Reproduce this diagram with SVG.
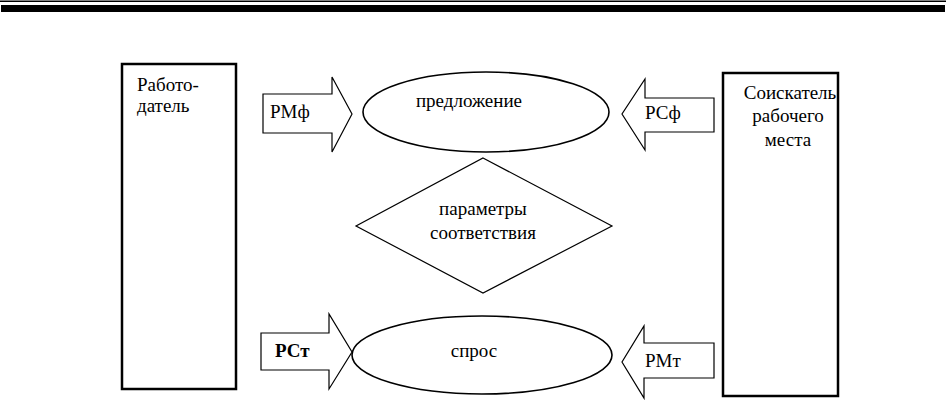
<svg xmlns="http://www.w3.org/2000/svg" width="946" height="408" viewBox="0 0 946 408">
<style>
text{font-family:'Liberation Serif','Times New Roman',serif;font-size:19px;fill:#000}
.box{fill:#fff;stroke:#000;stroke-width:2.5}
.arr{fill:#fff;stroke:#000;stroke-width:1.2}
.ell{fill:#fff;stroke:#000;stroke-width:1.6}
.dia{fill:#fff;stroke:#000;stroke-width:1.2}
.mid{text-anchor:middle}
</style>
<rect x="0" y="0" width="946" height="408" fill="#fff"/>
<g id="header">
<rect x="0" y="0.5" width="946" height="1.5" fill="#000"/>
<rect x="1" y="5" width="944" height="7" fill="#000"/>
</g>
<g id="employer">
<rect class="box" x="122" y="64" width="114" height="325"/>
<text x="137" y="91">Работо-</text>
<text x="137" y="112">датель</text>
</g>
<g id="seeker">
<rect class="box" x="723" y="73" width="115" height="323"/>
<text class="mid" x="790" y="99">Соискатель</text>
<text class="mid" x="788" y="122">рабочего</text>
<text class="mid" x="788" y="146">места</text>
</g>
<g id="supply">
<ellipse class="ell" cx="486" cy="112" rx="123" ry="40"/>
<text class="mid" x="469" y="107">предложение</text>
</g>
<g id="demand">
<ellipse class="ell" cx="482" cy="355" rx="130" ry="39"/>
<text class="mid" x="474" y="357">спрос</text>
</g>
<g id="params">
<polygon class="dia" points="483,158 612,226 483,293 356,226"/>
<text class="mid" x="483" y="215">параметры</text>
<text class="mid" x="483" y="239">соответствия</text>
</g>
<g id="connectors">
<g id="arrow-RMf">
<polygon class="arr" points="263,94 332,94 332,77 352,114 332,152 332,133 263,133"/>
<text x="270" y="118">РМф</text>
</g>
<g id="arrow-RSf">
<polygon class="arr" points="714,98 645,98 645,79 622,114 645,150 645,132 714,132"/>
<text x="645" y="119">РСф</text>
</g>
<g id="arrow-RSt">
<polygon class="arr" points="261,333 329,333 329,314 352,352 329,389 329,370 261,370"/>
<text x="275" y="357" font-weight="bold" font-size="18">РСт</text>
</g>
<g id="arrow-RMt">
<polygon class="arr" points="714,343 644,343 644,326 622,362 644,398 644,378 714,378"/>
<text x="645" y="367">РМт</text>
</g>
</g>
</svg>
